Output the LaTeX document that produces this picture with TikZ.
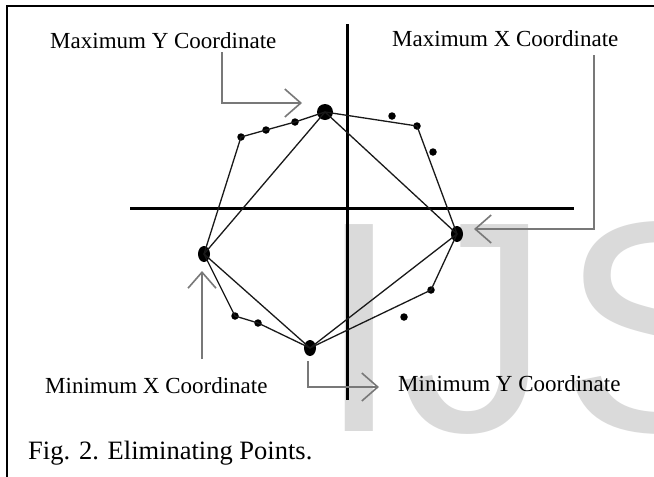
\documentclass[tikz,border=0pt]{standalone}
\usepackage{fontspec}
\usepackage{graphicx}
\newfontfamily\labelfont{Liberation Serif}
\newfontfamily\wmfont{Liberation Sans}
\usetikzlibrary{arrows.meta,shapes.geometric}
\definecolor{wmgray}{RGB}{218,218,218}
\definecolor{argray}{RGB}{120,120,120}
\tikzset{
  bigdot/.style={ellipse, fill=black, inner sep=0pt, minimum width=12pt, minimum height=16pt},
  rounddot/.style={circle, fill=black, inner sep=0pt, minimum size=16pt},
  smalldot/.style={circle, fill=black, inner sep=0pt, minimum size=7.5pt},
  axis/.style={line width=3pt, black},
  hull/.style={line width=1.3pt, black!90},
  garrow/.style={line width=2.4pt, argray, -{Straight Barb[length=16pt,width=28pt,line width=1.6pt]}},
  lab/.style={anchor=base west, inner sep=0pt, font=\labelfont\fontsize{23}{26}\selectfont},
}
\begin{document}
\begin{tikzpicture}[x=1pt,y=-1pt]
\useasboundingbox (0,0) rectangle (654,477);
\fill[white] (0,0) rectangle (654,477);
% watermark
\begin{scope}
\clip (0,0) rectangle (654,477);
\node[anchor=base west, inner sep=0pt, text=wmgray] (wm) at (317,431)
  {\resizebox{!}{210pt}{\wmfont\fontsize{100}{100}\selectfont IJ\kern3pt S}};
\end{scope}
% frame
\draw[line width=2pt] (7,477) -- (7,6) -- (654,6);
% axes
\coordinate (vt) at (347,24);
\coordinate (vb) at (347,400);
\coordinate (hl) at (130,208);
\coordinate (hr) at (574,208);
\draw[axis] (vt) -- (vb);
\draw[axis] (hl) -- (hr);
% points
\node[rounddot] (maxy) at (325,112) {};
\node[bigdot] (maxx) at (457,234) {};
\node[bigdot] (minx) at (204,254) {};
\node[bigdot] (miny) at (310,348) {};
\node[smalldot] (p1) at (295,122) {};
\node[smalldot] (p2) at (266,130) {};
\node[smalldot] (p3) at (241,137) {};
\node[smalldot] (p4) at (235,316) {};
\node[smalldot] (p5) at (258,323) {};
\node[smalldot] (p6) at (431,290) {};
\node[smalldot] (p7) at (417,126) {};
\node[smalldot] (q1) at (392,116) {};
\node[smalldot] (q2) at (433,152) {};
\node[smalldot] (q3) at (404,317) {};
% hull
\draw[hull] (maxy.center) -- (p1.center) -- (p2.center) -- (p3.center) -- (minx.center)
  -- (p4.center) -- (p5.center) -- (miny.center) -- (p6.center) -- (maxx.center)
  -- (p7.center) -- (maxy.center);
% inner quadrilateral
\draw[hull] (maxy.center) -- (maxx.center) -- (miny.center) -- (minx.center) -- cycle;
% labels
\node[lab] (lmaxy) at (50,48) {Maximum Y Coordinate};
\node[lab] (lmaxx) at (392,46) {Maximum X Coordinate};
\node[lab] (lminx) at (45,393) {Minimum X Coordinate};
\node[lab] (lminy) at (398,391) {Minimum Y Coordinate};
% arrows
\coordinate (a1s) at (222,52);
\coordinate (a1e) at (302,103);
\draw[garrow] (a1s) |- (a1e);
\coordinate (a2s) at (594,55);
\coordinate (a2e) at (474,229);
\draw[garrow] (a2s) |- (a2e);
\coordinate (a3s) at (202,359);
\coordinate (a3e) at (202,271);
\draw[garrow] (a3s) -- (a3e);
\coordinate (a4s) at (308,361);
\coordinate (a4e) at (379,387);
\draw[garrow] (a4s) |- (a4e);
% caption
\node[anchor=base west, inner sep=0pt, font=\labelfont\fontsize{26.5}{30}\selectfont] (cap) at (28,459) {Fig. 2. Eliminating Points.};
\end{tikzpicture}
\end{document}
